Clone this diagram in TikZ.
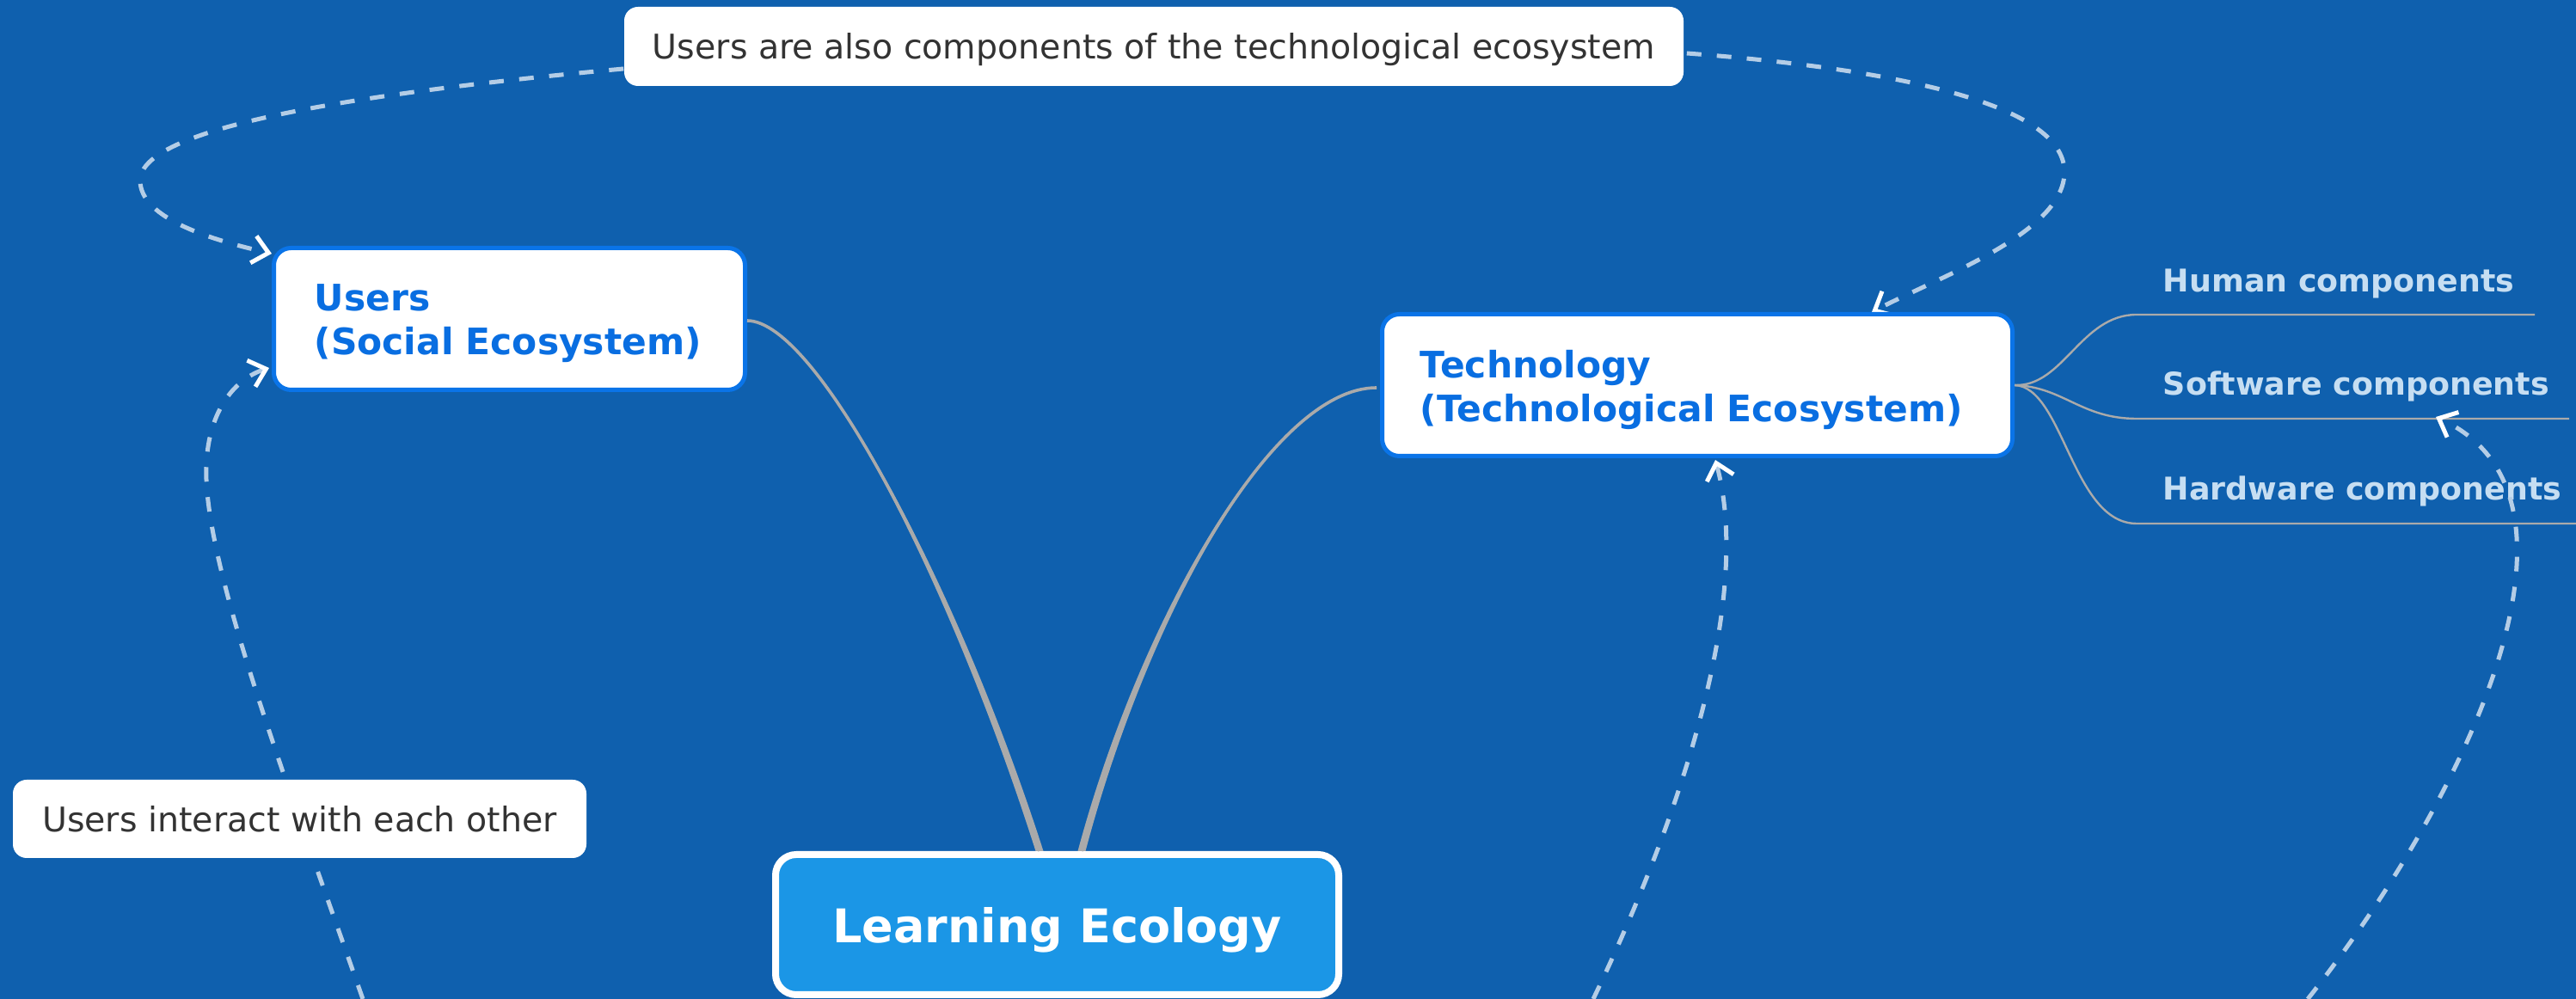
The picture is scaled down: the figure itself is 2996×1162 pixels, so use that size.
\documentclass[tikz,border=0pt]{standalone}
\usepackage{fontspec}
\setmainfont{DejaVu Sans}
\usetikzlibrary{arrows.meta,calc}
\definecolor{bgblue}{RGB}{15,96,174}
\definecolor{boxblue}{RGB}{10,116,232}
\definecolor{txtblue}{RGB}{9,110,225}
\definecolor{leblue}{RGB}{27,150,230}
\definecolor{compcol}{RGB}{198,222,242}
\definecolor{conngray}{RGB}{170,170,170}
\definecolor{relcol}{RGB}{180,205,230}
\definecolor{notetext}{RGB}{51,51,51}
\pgfdeclarelayer{back}
\pgfdeclarelayer{lines}
\pgfsetlayers{back,lines,main}
\begin{document}
\begin{tikzpicture}[x=0.25pt,y=-0.25pt,
  topicbox/.style={draw=boxblue, line width=1.25pt, fill=white, rounded corners=5pt,
    minimum height=41.25pt, inner sep=0pt},
  topictext/.style={text=txtblue, font=\fontsize{10.6pt}{12.75pt}\selectfont\bfseries,
    align=left, anchor=base west, inner sep=0pt},
  rootbox/.style={draw=white, line width=2pt, fill=leblue, rounded corners=6pt,
    minimum width=163.75pt, minimum height=40.75pt, text=white,
    font=\fontsize{13.5pt}{16pt}\selectfont\bfseries, text depth=0pt, inner sep=0pt},
  notebox/.style={fill=white, rounded corners=4pt, text=notetext,
    font=\fontsize{9.875pt}{12pt}\selectfont, text depth=0pt, inner sep=0pt},
  comptext/.style={text=compcol, font=\fontsize{9.1pt}{11pt}\selectfont\bfseries,
    anchor=base west, inner sep=0pt},
  conn/.style={fill=conngray},
  connline/.style={draw=conngray, line width=0.9pt},
  subline/.style={draw=conngray, line width=0.6pt},
  rel/.style={draw=relcol, line width=1.25pt, dash pattern=on 4.25pt off 4.5pt},
  >={Straight Barb[length=4.5pt,width=8pt,line width=1.25pt,color=white]}
]
\useasboundingbox (0,0) rectangle (2996,1162);
\begin{pgfonlayer}{back}
  \fill[bgblue] (0,0) rectangle (2996,1162);
\end{pgfonlayer}

% main topics
\node[topicbox, minimum width=137pt] (users) at (592.5,371) {};
\node[topicbox, minimum width=183.25pt] (tech) at (1974,448) {};
\node[rootbox] (le) at (1229.5,1075.5) {Learning Ecology};
\node[topictext, text width=114pt] (usersT) at (365,362) {Users\\(Social~Ecosystem)};
\node[topictext, text width=162pt] (techT) at (1651,440) {Technology\\(Technological~Ecosystem)};

% sub topics
\node[comptext] (hum) at (2515,340) {Human components};
\node[comptext] (soft) at (2515,460) {Software components};
\node[comptext] (hard) at (2515,582) {Hardware components};
\coordinate (humA) at (2485,366);  \coordinate (humB) at (2948,366);
\coordinate (softA) at (2485,487); \coordinate (softB) at (2988,487);
\coordinate (hardA) at (2485,609); \coordinate (hardB) at (2996,609);

% notes (relationship labels)
\node[notebox, minimum width=308pt, minimum height=23pt] (notetop) at (1342,54)
  {Users are also components of the technological ecosystem};
\node[notebox, minimum width=166.75pt, minimum height=22.75pt] (noteint) at (348.5,952.5)
  {Users interact with each other};

% branches from root (stroke plus taper towards the root)
\draw[connline] ($(le.north)+(-20.5,0)$) .. controls (1110,680) and (950,373) .. ($(users.east)+(0,2)$);
\fill[conn] ($(le.north)+(-25,0)$) .. controls (1106,680) and (950,372.5) ..
  ($(users.east)+(0,1.5)$) -- ($(users.east)+(0,2.5)$) .. controls (950,373.5) and (1114,680) ..
  ($(le.north)+(-16,0)$) -- cycle;
\draw[connline] ($(le.north)+(28.5,0)$) .. controls (1330,720) and (1480,451) .. ($(tech.west)+(-4,3)$);
\fill[conn] ($(le.north)+(24,0)$) .. controls (1326,720) and (1480,450.5) ..
  ($(tech.west)+(-4,2.5)$) -- ($(tech.west)+(-4,3.5)$) .. controls (1480,451.5) and (1334,720) ..
  ($(le.north)+(33,0)$) -- cycle;

% sub branches
\draw[subline] (tech.east) .. controls (2400,450) and (2420,366) .. (humA) -- (humB);
\draw[subline] (tech.east) .. controls (2400,450) and (2420,487) .. (softA) -- (softB);
\draw[subline] (tech.east) .. controls (2400,450) and (2410,609) .. (hardA) -- (hardB);

% relationships passing under the labels
\begin{pgfonlayer}{lines}
  \draw[rel,->] ($(notetop.west)+(0,26)$) .. controls (400,110) and (163,150) .. (163,210)
    .. controls (163,255) and (250,280) .. ($(users.north west)+(0,9)$);
  \draw[rel,->] ($(notetop.east)+(3,8)$) .. controls (2200,80) and (2401,120) .. (2401,200)
    .. controls (2401,270) and (2260,320) .. ($(tech.north)+(203,0)$);
  \coordinate (intEnd) at (422,1162);
  \draw[rel,->] (intEnd) .. controls (330,900) and (235,650) .. (240,540)
    .. controls (243,475) and (275,440) .. ($(users.south west)+(-3,-28)$);
\end{pgfonlayer}

% relationships entering from below
\coordinate (techIn) at (1853,1162);
\draw[rel,->] (techIn) .. controls (1950,960) and (2040,700) .. ($(tech.south)+(21,2)$);
\coordinate (softIn) at (2684,1162);
\draw[rel,->] (softIn) .. controls (2860,940) and (3040,580) .. ($(softA)+(348,-2)$);
\end{tikzpicture}
\end{document}
